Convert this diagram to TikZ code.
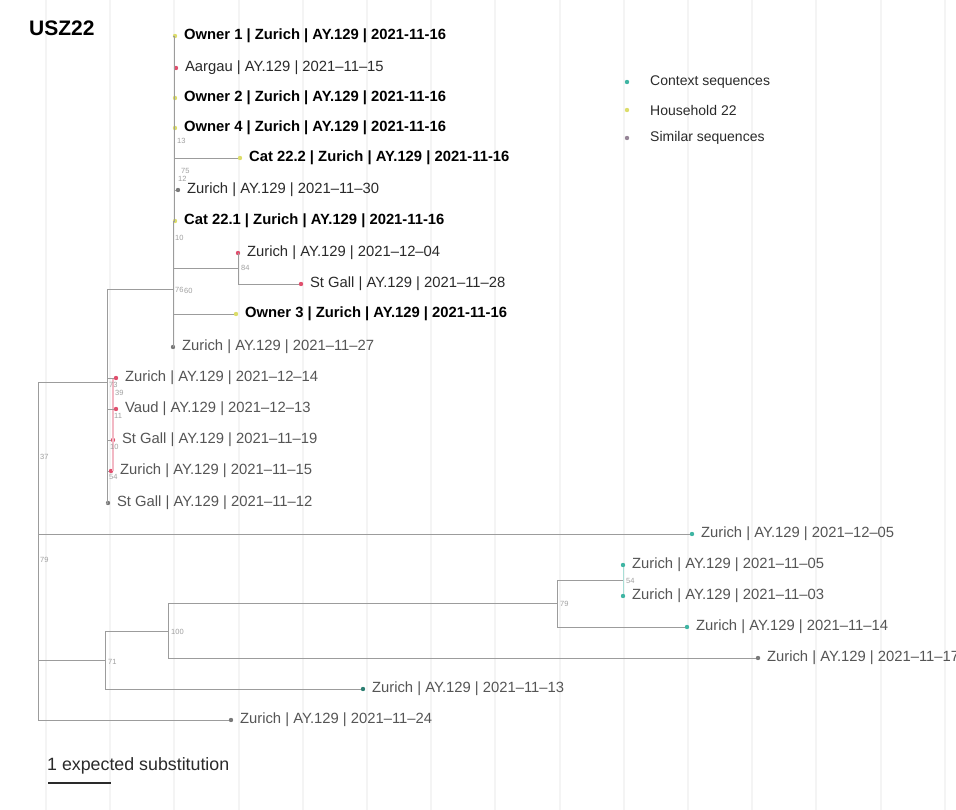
\documentclass[tikz,border=0pt]{standalone}
\usepackage{fontspec}
\setmainfont{Liberation Sans}
\definecolor{brc}{HTML}{9C9C9C}
\definecolor{gridc}{HTML}{F4F4F4}
\definecolor{ctx}{HTML}{3FB5A3}
\definecolor{hh}{HTML}{DCDD6A}
\definecolor{simc}{HTML}{968597}
\definecolor{redd}{HTML}{E0506E}
\definecolor{redl}{HTML}{F2B8C4}
\definecolor{grayd}{HTML}{7A7A7A}
\definecolor{labc}{HTML}{555555}
\definecolor{labd}{HTML}{2A2A2A}
\definecolor{supc}{HTML}{A0A0A0}
\tikzset{
  br/.style={draw=brc, line width=0.9pt},
  rbr/.style={draw=redl, line width=1.2pt},
  gridline/.style={draw=gridc, line width=2pt},
  tipdot/.style={circle, inner sep=0pt, minimum size=4.4pt, fill=#1, draw=none},
  lab/.style={anchor=west, font=\fontsize{14.8}{17}\selectfont, text=labc, inner sep=0pt, xshift=6.5pt},
  labk/.style={lab, text=labd},
  blab/.style={anchor=west, font=\fontsize{14.8}{17}\selectfont\bfseries, text=black, inner sep=0pt, xshift=6.5pt},
  sup/.style={anchor=west, font=\fontsize{7.5}{8}\selectfont, text=supc, inner sep=0pt},
  leg/.style={anchor=west, font=\fontsize{14}{16}\selectfont, text=labd, inner sep=0pt},
}
\begin{document}
\begin{tikzpicture}[x=1pt,y=-1pt]
\useasboundingbox (0,0) rectangle (956,810);
\clip (0,0) rectangle (956,810);
\fill[white] (0,0) rectangle (956,810);
% grid
\foreach \k in {0,...,14} {
  \draw[gridline] ({46+64.2*\k},0) -- ({46+64.2*\k},810);
}
% title
\node[anchor=west, font=\fontsize{21}{24}\selectfont\bfseries, inner sep=0pt] (title) at (29,28) {USZ22};

% ---------- tips ----------
\node[tipdot=hh]    (o1)    at (175,36)  {};
\node[tipdot=redd]  (aarg)  at (176,68)  {};
\node[tipdot=hh]    (o2)    at (175,98)  {};
\node[tipdot=hh]    (o4)    at (175,128) {};
\node[tipdot=hh]    (c222)  at (240,158) {};
\node[tipdot=grayd] (z1130) at (178,190) {};
\node[tipdot=hh]    (c221)  at (175,221) {};
\node[tipdot=redd]  (z1204) at (238,253) {};
\node[tipdot=redd]  (sg1128) at (301,284) {};
\node[tipdot=hh]    (o3)    at (236,314) {};
\node[tipdot=grayd] (z1127) at (173,347) {};
\node[tipdot=redd]  (z1214) at (116,378) {};
\node[tipdot=redd]  (vaud)  at (116,409) {};
\node[tipdot=redd]  (sg1119) at (113,440) {};
\node[tipdot=redd]  (z1115) at (111,471) {};
\node[tipdot=grayd] (sg1112) at (108,503) {};
\node[tipdot=ctx]   (z1205) at (692,534) {};
\node[tipdot=ctx]   (z1105) at (623,565) {};
\node[tipdot=ctx]   (z1103) at (623,596) {};
\node[tipdot=ctx]   (z1114) at (687,627) {};
\node[tipdot=grayd] (z111x) at (758,658) {};
\node[tipdot=ctx!70!black] (z1113) at (363,689) {};
\node[tipdot=grayd] (z1124) at (231,720) {};

% ---------- internal nodes ----------
\coordinate (nroot) at (38,560);
\coordinate (n37)   at (38,457);
\coordinate (nsim)  at (107,382);
\coordinate (nred)  at (113,393);
\coordinate (n76)   at (173,289);
\coordinate (ntop)  at (174,140);
\coordinate (n84)   at (238,268);
\coordinate (n71)   at (105,660);
\coordinate (n100)  at (168,631);
\coordinate (n79b)  at (557,603);
\coordinate (n54)   at (623,580);

% ---------- branches ----------
\draw[br] (nroot) |- (z1124);
\draw[br] (nroot) |- (n71);
\draw[br] (nroot) -- (n37);
\draw[br] (n37) |- (nsim);
\draw[br] (n37) |- (z1205);
% similar clade
\draw[br] (nsim) |- (n76);
\draw[br] (nsim) |- (sg1112);
\draw[rbr] (nred |- z1214) -- (nred |- z1115);
\draw[br] (nsim |- z1214) -- (z1214);
\draw[br] (nsim |- vaud) -- (vaud);
\draw[br] (nsim |- sg1119) -- (sg1119);
\draw[br] (nsim |- z1115) -- (z1115);
% focal clade
\draw[br] (n76) |- (z1127);
\draw[br] (n76) |- (o3);
\draw[br] (n76) |- (n84);
\draw[br] (n84) |- (z1204);
\draw[br] (n84) |- (sg1128);
\draw[br] (n76) -- (n76 |- c221) -- (ntop |- c221);
\draw[br] (ntop) |- (o1);
\draw[br] (ntop) |- (c221);
\draw[br] (ntop |- c222) -- (c222);
\draw[br] (ntop |- z1130) -- (z1130);
% context clade
\draw[br] (n71) |- (n100);
\draw[br] (n71) |- (z1113);
\draw[br] (n100) |- (n79b);
\draw[br] (n100) |- (z111x);
\draw[br] (n79b) |- (n54);
\draw[br] (n79b) |- (z1114);
\draw[draw=ctx!45, line width=0.9pt] (z1105) -- (z1103);

% ---------- tip labels ----------
\node[blab] (lo1)  at (o1.east)   {Owner 1 | Zurich | AY.129 | 2021-11-16};
\node[labk] (laar) at (aarg.east) {Aargau | AY.129 | 2021–11–15};
\node[blab] (lo2)  at (o2.east)   {Owner 2 | Zurich | AY.129 | 2021-11-16};
\node[blab] (lo4)  at (o4.east)   {Owner 4 | Zurich | AY.129 | 2021-11-16};
\node[blab] (lc222) at (c222.east) {Cat 22.2 | Zurich | AY.129 | 2021-11-16};
\node[labk] (lz1130) at (z1130.east) {Zurich | AY.129 | 2021–11–30};
\node[blab] (lc221) at (c221.east) {Cat 22.1 | Zurich | AY.129 | 2021-11-16};
\node[labk] (lz1204) at (z1204.east) {Zurich | AY.129 | 2021–12–04};
\node[labk] (lsg1128) at (sg1128.east) {St Gall | AY.129 | 2021–11–28};
\node[blab] (lo3)  at (o3.east)   {Owner 3 | Zurich | AY.129 | 2021-11-16};
\node[lab] (lz1127) at (z1127.east) {Zurich | AY.129 | 2021–11–27};
\node[lab] (lz1214) at (z1214.east) {Zurich | AY.129 | 2021–12–14};
\node[lab] (lvaud) at (vaud.east) {Vaud | AY.129 | 2021–12–13};
\node[lab] (lsg1119) at (sg1119.east) {St Gall | AY.129 | 2021–11–19};
\node[lab] (lz1115) at (z1115.east) {Zurich | AY.129 | 2021–11–15};
\node[lab] (lsg1112) at (sg1112.east) {St Gall | AY.129 | 2021–11–12};
\node[lab] (lz1205) at (z1205.east) {Zurich | AY.129 | 2021–12–05};
\node[lab] (lz1105) at (z1105.east) {Zurich | AY.129 | 2021–11–05};
\node[lab] (lz1103) at (z1103.east) {Zurich | AY.129 | 2021–11–03};
\node[lab] (lz1114) at (z1114.east) {Zurich | AY.129 | 2021–11–14};
\node[lab] (lz111x) at (z111x.east) {Zurich | AY.129 | 2021–11–17};
\node[lab] (lz1113) at (z1113.east) {Zurich | AY.129 | 2021–11–13};
\node[lab] (lz1124) at (z1124.east) {Zurich | AY.129 | 2021–11–24};

% ---------- support values ----------
\node[sup] (s13) at (177,141) {13};
\node[sup] (s75) at (181,171) {75};
\node[sup] (s12) at (178,179) {12};
\node[sup] (s10a) at (175,238) {10};
\node[sup] (s76) at (175,290) {76};
\node[sup] (s60) at (184,291) {60};
\node[sup] (s84) at (241,268) {84};
\node[sup] (s73) at (109,385) {73};
\node[sup] (s39) at (115,393) {39};
\node[sup] (s11) at (114,416) {11};
\node[sup] (s10b) at (110,447) {10};
\node[sup] (s54a) at (109,477) {54};
\node[sup] (s37) at (40,457) {37};
\node[sup] (s79a) at (40,560) {79};
\node[sup] (s71) at (108,662) {71};
\node[sup] (s100) at (171,632) {100};
\node[sup] (s79b) at (560,604) {79};
\node[sup] (s54b) at (626,581) {54};

% ---------- legend ----------
\node[tipdot=ctx]  (lg1) at (627,82)  {};
\node[tipdot=hh]   (lg2) at (627,110) {};
\node[tipdot=simc] (lg3) at (627,138) {};
\node[leg] (lgt1) at (650,82)  {Context sequences};
\node[leg] (lgt2) at (650,110) {Household 22};
\node[leg] (lgt3) at (650,138) {Similar sequences};

% ---------- scale bar ----------
\node[anchor=west, font=\fontsize{17.8}{20}\selectfont, text=labd, inner sep=0pt] (scl) at (47,766) {1 expected substitution};
\coordinate (sb1) at (48,783);
\coordinate (sb2) at (111,783);
\draw[draw=labd, line width=1.6pt] (sb1) -- (sb2);
\end{tikzpicture}
\end{document}
